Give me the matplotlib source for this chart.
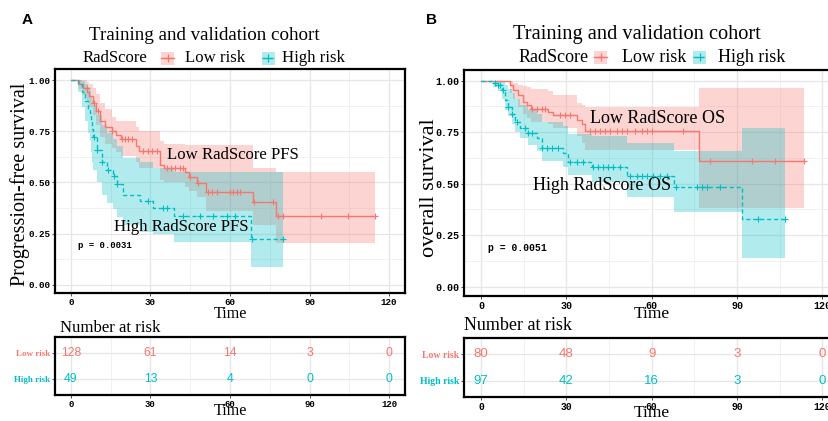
import matplotlib
matplotlib.use('Agg')
import matplotlib.pyplot as plt
from matplotlib.patches import Rectangle
from matplotlib.lines import Line2D
import numpy as np

W, H = 829, 421
RED = '#F8766D'
TEAL = '#00BFC4'
SERIF = ['Liberation Serif', 'DejaVu Serif']
MONO = ['Liberation Mono', 'DejaVu Sans Mono']
NARROW = ['Liberation Sans Narrow', 'Liberation Sans', 'DejaVu Sans']

# ---- panel A: progression-free survival ----
lowA_t = [0, 3, 4.5, 6, 7, 8.4, 9.5, 11, 13, 15.4, 17, 19, 24.5, 25.5, 33.6, 35, 43, 44.5, 47.4, 51, 68.5, 77.5]
lowA_s = [1, .98, .96, .94, .92, .89, .85, .80, .77, .75, .73, .71, .68, .655, .585, .571, .55, .528, .497, .455, .406, .336]
lowA_up = [1, 1, 1, .99, .98, .96, .93, .89, .86, .82, .80, .80, .77, .75, .70, .69, .685, .685, .683, .683, .57, .553]
lowA_lo = [1, .955, .925, .90, .87, .83, .78, .72, .69, .67, .65, .63, .60, .57, .51, .50, .48, .46, .43, .36, .29, .206]
lowA_end = 114.5
lowA_cens = [5.9, 8.6, 10.3, 15.6, 19.1, 20.4, 21.6, 22.9, 27.3, 28.9, 30.6, 32.3, 36.1, 37.7, 39.4, 41.1,
             42.4, 44.8, 47.8, 51.8, 53.1, 55, 60, 61.3, 62.5, 63.8, 69.2, 76.3, 78.2, 80, 94.5, 104.5, 114.5]

highA_t = [0, 2.8, 4, 5.3, 6.3, 7.2, 7.7, 8.0, 8.4, 9.7, 11.6, 13.5, 15.9, 17.2, 19.7, 26, 31, 39, 68]
highA_s = [1, .98, .94, .90, .86, .84, .80, .76, .72, .66, .60, .56, .53, .49, .44, .41, .375, .336, .223]
highA_up = [1, 1, .995, .98, .965, .95, .92, .90, .88, .83, .78, .74, .71, .68, .62, .60, .57, .55, .55]
highA_lo = [1, .94, .87, .80, .74, .70, .65, .60, .56, .50, .44, .40, .37, .33, .29, .26, .25, .21, .089]
highA_end = 80
highA_cens = [8.6, 9.9, 11.8, 13.8, 16.1, 17.4, 29.2, 34.8, 36.1, 42.4, 48.7, 53.7, 58.7, 61.9, 68.4, 80]

riskA_low = [128, 61, 14, 3, 0]
riskA_high = [49, 13, 4, 0, 0]

# ---- panel B: overall survival ----
lowB_t = [0, 10.2, 11.3, 13, 14.8, 16, 17.5, 23.5, 25.3, 33.6, 35.4, 36.5, 76.8]
lowB_s = [1, .979, .955, .93, .898, .882, .861, .85, .834, .809, .79, .756, .61]
lowB_up = [1, 1, .99, .98, .975, .97, .96, .95, .93, .89, .88, .874, .963]
lowB_lo = [1, .94, .91, .87, .84, .82, .80, .79, .77, .73, .70, .663, .384]
lowB_end = 113.7
lowB_cens = [17.8, 19.6, 21.3, 22.5, 27.8, 29.5, 31.3, 38.3, 40.1, 41.8, 43.6, 45.4, 47.7, 49.5, 51.2,
             54.1, 56.5, 58.3, 60, 71.1, 80.5, 95.2, 103.4, 113.7]

highB_t = [0, 4.3, 6, 7.3, 8.4, 9.6, 10.8, 12, 13.7, 16.6, 19.6, 21.3, 28.9, 30.7, 38.9, 51.2, 68, 91.7]
highB_s = [1, .99, .98, .955, .906, .874, .84, .80, .769, .745, .72, .672, .648, .607, .583, .537, .485, .327]
highB_up = [1, 1, 1, .995, .98, .96, .94, .91, .88, .86, .84, .80, .78, .74, .73, .70, .66, .769]
highB_lo = [1, .97, .95, .91, .86, .83, .79, .75, .72, .69, .66, .61, .58, .54, .51, .437, .364, .14]
highB_end = 106.9
highB_cens = [4.9, 6.1, 6.7, 7.8, 9.6, 10.8, 12.5, 15.5, 16.6, 17.8, 21.3, 23.1, 24.9, 27.2, 31.3, 33.6, 36,
              39.5, 41.2, 43, 44.8, 46.5, 48.9, 52.4, 54.7, 56.5, 58.3, 60.6, 62.9, 65.3, 68.4, 75.8, 77.6,
              79.4, 84, 97.5, 106.9]

riskB_low = [80, 48, 9, 3, 0]
riskB_high = [97, 42, 16, 3, 0]

risk_times = [0, 30, 60, 90, 120]
groups = ['Low risk', 'High risk']


def fx(px):
    return px / W


def fy(py):
    return 1 - py / H


def km(ax, t, s, up, lo, end, cens, color, ls):
    tt = list(t) + [end]
    ax.fill_between(tt, list(lo) + [lo[-1]], list(up) + [up[-1]], step='post',
                    color=color, alpha=0.3, lw=0)
    ax.step(tt, list(s) + [s[-1]], where='post', color=color, lw=1.0, ls=ls)
    idx = np.searchsorted(t, cens, side='right') - 1
    ax.plot(cens, np.array(s)[idx], ls='none', marker='+', ms=5, mew=0.8, color=color)


def style(ax, ylim):
    ax.set_xlim(-6, 126)
    ax.set_ylim(*ylim)
    ax.set_xticks(risk_times)
    ax.set_xticks([15, 45, 75, 105], minor=True)
    ax.grid(True, which='major', color='#E6E6E6', lw=0.9)
    ax.grid(True, which='minor', color='#EFEFEF', lw=0.6)
    ax.set_axisbelow(True)
    for sp in ax.spines.values():
        sp.set_linewidth(1.6)
    ax.tick_params(which='major', length=2.5, width=0.6, color='#333333', pad=1)
    ax.tick_params(which='minor', length=0)


fig = plt.figure(figsize=(W / 100, H / 100), dpi=100)

panels = [
    dict(main=[55, 293, 350, 224], tab=[55, 395, 350, 58], ylim=(-0.04, 1.054), sc=0.93,
         low=(lowA_t, lowA_s, lowA_up, lowA_lo, lowA_end, lowA_cens),
         high=(highA_t, highA_s, highA_up, highA_lo, highA_end, highA_cens),
         risk=(riskA_low, riskA_high), ylabel='Progression-free survival', ylab_x=20, ylab_y=184, ylab_fs=14.5,
         letter='A', letter_xy=(27, 20), title_xy=(204, 36),
         leg=(58, 83, 168, 185, 268, 282), p='p = 0.0031',
         low_lab=('Low RadScore PFS', 61, 0.634), high_lab=('High RadScore PFS', 41.5, 0.283),
         time1=314, time2=411, nar=(60, 328)),
    dict(main=[464, 296, 375.4, 226], tab=[464, 396.7, 375.4, 58.7], ylim=(-0.045, 1.052), sc=1.0,
         low=(lowB_t, lowB_s, lowB_up, lowB_lo, lowB_end, lowB_cens),
         high=(highB_t, highB_s, highB_up, highB_lo, highB_end, highB_cens),
         risk=(riskB_low, riskB_high), ylabel='overall survival', ylab_x=430, ylab_y=188, ylab_fs=16,
         letter='B', letter_xy=(432, 20), title_xy=(637, 35),
         leg=(57, 519, 601, 622, 700, 718), p='p = 0.0051',
         low_lab=('Low RadScore OS', 62, 0.819), high_lab=('High RadScore OS', 42.4, 0.489),
         time1=314, time2=413, nar=(464, 325)),
]

for P in panels:
    sc = P['sc']
    l, b, w, h = P['main']
    ax = fig.add_axes([fx(l), fy(b), w / W, h / H])
    style(ax, P['ylim'])
    ax.set_yticks([0, 0.25, 0.5, 0.75, 1.0])
    ax.set_yticks([0.125, 0.375, 0.625, 0.875], minor=True)
    ax.set_yticklabels(['0.00', '0.25', '0.50', '0.75', '1.00'])
    for lab in ax.get_xticklabels() + ax.get_yticklabels():
        lab.set_family(MONO)
        lab.set_weight('bold')
        lab.set_fontsize(7.2 * sc)
    km(ax, *P['low'], RED, '-')
    km(ax, *P['high'], TEAL, (0, (3, 2)))
    ax.text(2.5, 0.19, P['p'], family=MONO, weight='bold', fontsize=7.0 * sc, va='center')
    txt, tx, ty = P['low_lab']
    ax.text(tx, ty, txt, family=SERIF, fontsize=13 * sc, ha='center', va='center')
    txt, tx, ty = P['high_lab']
    ax.text(tx, ty, txt, family=SERIF, fontsize=13 * sc, ha='center', va='center')

    fig.text(fx(P['ylab_x']), fy(P['ylab_y']), P['ylabel'], family=SERIF, fontsize=P['ylab_fs'],
             rotation=90, ha='center', va='center')
    fig.text(fx(l + w * 6 / 132 + 60 * w / 132), fy(P['time1']), 'Time', family=SERIF, fontsize=12.5 * sc,
             ha='center', va='center')
    fig.text(fx(P['title_xy'][0]), fy(P['title_xy'][1]), 'Training and validation cohort', family=SERIF,
             fontsize=14.7 * sc, ha='center', va='center')
    fig.text(fx(P['letter_xy'][0]), fy(P['letter_xy'][1]), P['letter'],
             family=['Liberation Sans', 'DejaVu Sans'], weight='bold', fontsize=11, ha='center', va='center')

    # legend row
    ly, x_rad, k1, x_low, k2, x_high = P['leg']
    fig.text(fx(x_rad), fy(ly), 'RadScore', family=SERIF, fontsize=13 * sc, ha='left', va='center')
    fig.text(fx(x_low), fy(ly), 'Low risk', family=SERIF, fontsize=13 * sc, ha='left', va='center')
    fig.text(fx(x_high), fy(ly), 'High risk', family=SERIF, fontsize=13 * sc, ha='left', va='center')
    for kx, col, ls in [(k1, RED, '-'), (k2, TEAL, (0, (3, 2)))]:
        fig.add_artist(Rectangle((fx(kx - 6.5), fy(ly + 6.5)), 13 / W, 13 / H, transform=fig.transFigure,
                                 facecolor=col, alpha=0.3, lw=0))
        fig.add_artist(Line2D([fx(kx - 6.5), fx(kx + 6.5)], [fy(ly), fy(ly)], transform=fig.transFigure,
                              color=col, lw=1.0, ls=ls))
        fig.add_artist(Line2D([fx(kx)], [fy(ly)], transform=fig.transFigure, color=col, marker='+',
                              ms=6, mew=0.9))

    # number at risk table
    l, b, w, h = P['tab']
    at = fig.add_axes([fx(l), fy(b), w / W, h / H])
    style(at, (-0.6, 1.6))
    at.set_yticks([1, 0])
    at.set_yticklabels(groups)
    for lab, col in zip(at.get_yticklabels(), [RED, TEAL]):
        lab.set_color(col)
        lab.set_family(SERIF)
        lab.set_weight('bold')
        lab.set_fontsize(7.0 * sc)
    for lab in at.get_xticklabels():
        lab.set_family(MONO)
        lab.set_weight('bold')
        lab.set_fontsize(7.0 * sc)
    low_n, high_n = P['risk']
    for t, n1, n2 in zip(risk_times, low_n, high_n):
        at.text(t, 1, str(n1), color=RED, family=NARROW, fontsize=9.5 * sc, ha='center', va='center')
        at.text(t, 0, str(n2), color=TEAL, family=NARROW, fontsize=9.5 * sc, ha='center', va='center')
    fig.text(fx(P['nar'][0]), fy(P['nar'][1]), 'Number at risk', family=SERIF, fontsize=13 * sc,
             ha='left', va='center')
    fig.text(fx(l + w * 66 / 132), fy(P['time2']), 'Time', family=SERIF, fontsize=12.5 * sc,
             ha='center', va='center')

fig.savefig('out.png', dpi=100)
